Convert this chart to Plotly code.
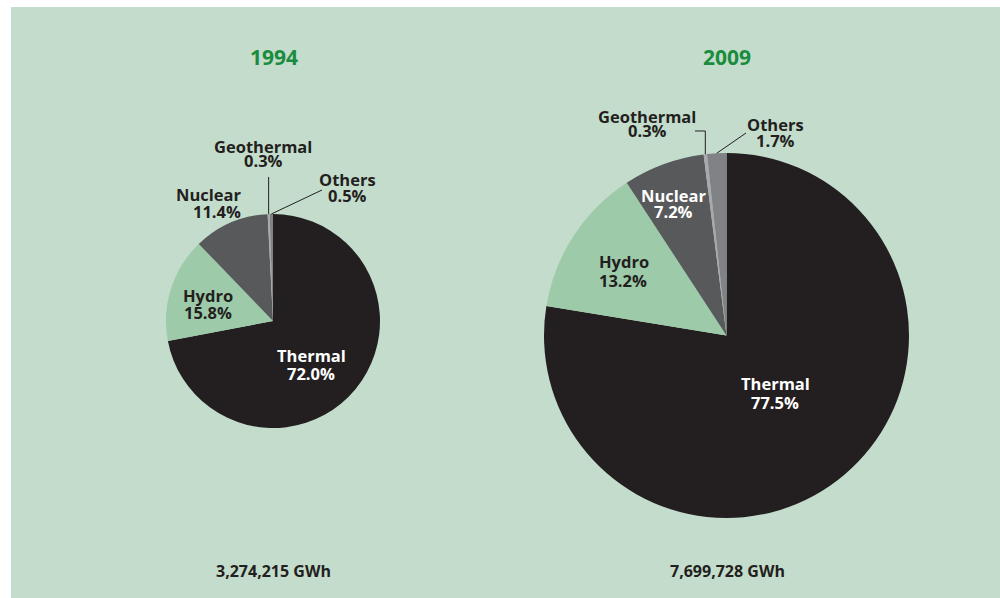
import math
import plotly.graph_objects as go

# ---- data ----
sources = ["Thermal", "Hydro", "Nuclear", "Geothermal", "Others"]
share_1994 = [72.0, 15.8, 11.4, 0.3, 0.5]
share_2009 = [77.5, 13.2, 7.2, 0.3, 1.7]
years = ["1994", "2009"]
totals = ["3,274,215 GWh", "7,699,728 GWh"]
slice_colors = ["#231f20", "#9dcaa9", "#58595b", "#a7a9ac", "#808285"]

W, H = 1000, 598
BG = "#c4dccb"
DARK = "#231f20"
FONT = "Open Sans"
LS = 16.5


def px(x, y):
    return x / W, 1 - y / H


# pie geometry in page pixels: (cx, cy, r)
geo = {"1994": (273, 321, 107), "2009": (726.5, 335.5, 182.5)}


def anchor(values, idx, key):
    cx, cy, r = geo[key]
    tot = sum(values)
    start = sum(values[:idx])
    mid = (start + values[idx] / 2) / tot
    th = 2 * math.pi * mid
    return cx + r * math.sin(th), cy - r * math.cos(th)


fig = go.Figure()
for key, vals in zip(years, [share_1994, share_2009]):
    cx, cy, r = geo[key]
    x0, y1 = px(cx - r, cy - r)
    x1, y0 = px(cx + r, cy + r)
    fig.add_trace(go.Pie(
        labels=sources, values=vals, sort=False, direction="clockwise",
        rotation=0, textinfo="none", hoverinfo="label+percent",
        marker=dict(colors=slice_colors, line=dict(width=0)),
        domain=dict(x=[x0, x1], y=[y0, y1]),
        showlegend=False,
    ))

# white page strips on the left and top
lx, ty = px(11, 7)
shapes = [
    dict(type="rect", xref="paper", yref="paper", x0=0, x1=lx, y0=0, y1=1,
         fillcolor="white", line=dict(width=0), layer="below"),
    dict(type="rect", xref="paper", yref="paper", x0=0, x1=1, y0=ty, y1=1,
         fillcolor="white", line=dict(width=0), layer="below"),
]


def path(points):
    s = ""
    for i, (x, y) in enumerate(points):
        X, Y = px(x, y)
        s += ("M" if i == 0 else "L") + f"{X:.5f},{Y:.5f} "
    return s.strip()


lines = []
ax, ay = anchor(share_1994, 3, "1994")
lines.append(path([(ax, ay), (ax, 177)]))
ax, ay = anchor(share_1994, 4, "1994")
lines.append(path([(ax, ay), (322, 190)]))
ax, ay = anchor(share_2009, 3, "2009")
lines.append(path([(ax, ay), (ax, 131), (695, 131)]))
ax, ay = anchor(share_2009, 4, "2009")
lines.append(path([(ax, ay), (746, 133)]))
for p in lines:
    shapes.append(dict(type="path", path=p, xref="paper", yref="paper",
                       line=dict(color=DARK, width=1)))

annotations = []


def txt(text, x, y, size=LS, color=DARK, xanchor="center"):
    X, Y = px(x, y)
    annotations.append(dict(text=f"<b>{text}</b>", x=X, y=Y, xref="paper", yref="paper",
                            xanchor=xanchor, yanchor="middle", showarrow=False,
                            font=dict(family=FONT, size=size, color=color)))


def label(name, value, x, y, color=DARK, xanchor="center", gap=16):
    txt(name, x, y, color=color, xanchor=xanchor)
    txt(f"{value:.1f}%", x, y + gap, color=color, xanchor=xanchor)


# titles and totals
txt(years[0], 274, 57, size=21, color="#1a8c3e")
txt(years[1], 727, 57, size=21, color="#1a8c3e")
txt(totals[0], 273, 571, size=16)
txt(totals[1], 727, 571, size=16)

# 1994 labels
label(sources[0], share_1994[0], 311, 355, color="white", gap=18)
label(sources[1], share_1994[1], 208, 295, gap=17)
label(sources[2], share_1994[2], 243, 194, xanchor="right", gap=17)
label(sources[3], share_1994[3], 263, 146, gap=15)
label(sources[4], share_1994[4], 347, 179, gap=16)

# 2009 labels
label(sources[0], share_2009[0], 775, 383, color="white", gap=19)
label(sources[1], share_2009[1], 597, 262, xanchor="left", gap=18)
label(sources[2], share_2009[2], 673, 195, color="white", gap=16)
label(sources[3], share_2009[3], 647, 117, gap=14)
label(sources[4], share_2009[4], 775, 125, gap=16)

fig.update_layout(
    width=W, height=H, margin=dict(l=0, r=0, t=0, b=0),
    paper_bgcolor=BG, plot_bgcolor=BG,
    shapes=shapes, annotations=annotations,
)
fig.write_html(
    "out.html",
    config={"displayModeBar": False},
    post_script="document.body.style.margin='0';document.body.style.overflow='hidden';",
)
